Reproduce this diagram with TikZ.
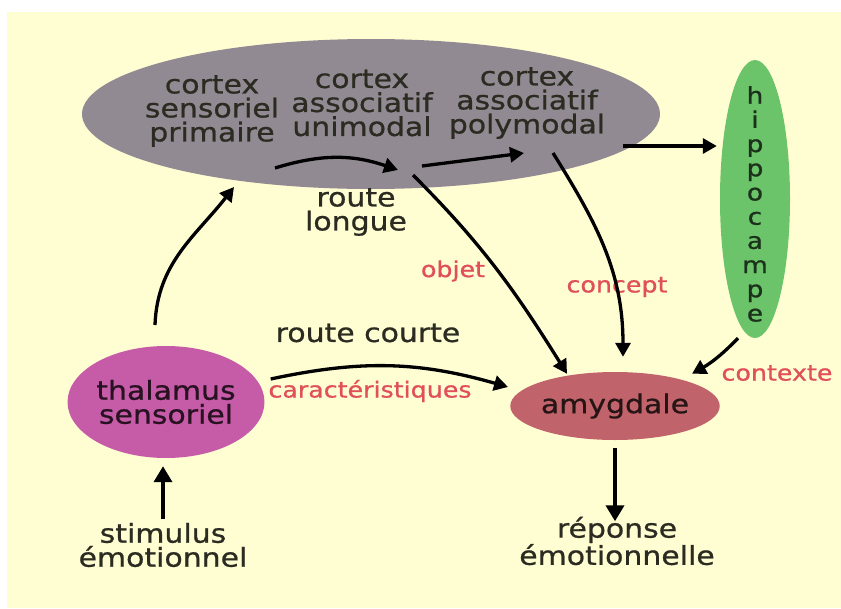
\documentclass[tikz,border=0pt]{standalone}
\usepackage{fontspec}
\setmainfont{DejaVu Sans}[FakeStretch=1.15, FakeBold=0.8]
\definecolor{emCream}{HTML}{FFFED3}
\definecolor{emGrey}{HTML}{928A92}
\definecolor{emGreen}{HTML}{6CC46A}
\definecolor{emPink}{HTML}{C65BA8}
\definecolor{emRose}{HTML}{C1636B}
\definecolor{emRed}{HTML}{E0505A}
\definecolor{emText}{HTML}{2B2B22}
\usetikzlibrary{arrows.meta,shapes.geometric}

\begin{document}
\begin{tikzpicture}[x=1pt, y=1pt,
  zone/.style={ellipse, inner sep=0pt},
  txt/.style={align=center, text=emText, font=\fontsize{26}{24}\selectfont},
  lbl/.style={text=emRed, font=\fontsize{22}{22}\selectfont},
  arr/.style={-{Triangle[length=14pt, width=15pt]}, line width=3.3pt, color=black},
  bigarr/.style={-{Triangle[length=16pt, width=18pt]}, line width=3.8pt, color=black}
]
  \useasboundingbox (0,0) rectangle (841,-608);
  \fill[emCream] (7,-12) rectangle (841,-608);

  \node[zone, fill=emGrey, minimum width=578pt, minimum height=150pt] (cortex) at (371,-114) {};
  \node[txt] (prim) at (212,-111) {cortex\\sensoriel\\primaire};
  \node[txt] (uni) at (362,-103) {cortex\\associatif\\unimodal};
  \node[txt] (poly) at (527,-103) {cortex\\associatif\\polymodal};

  \node[zone, fill=emGreen, minimum width=70pt, minimum height=278pt] (hippo) at (755,-199) {};
  \node[txt, text=black!75!emGreen, font=\fontsize{23}{24.2}\selectfont] (hippotxt) at (755,-204)
    {h\\i\\p\\p\\o\\c\\a\\m\\p\\e};

  \node[zone, fill=emPink, minimum width=178pt, minimum height=112pt, txt,
    text=black!80!emPink] (thal) at (166,-402) {thalamus\\sensoriel};
  \node[zone, fill=emRose, minimum width=200pt, minimum height=68pt, txt,
    text=black!80!emRose] (amyg) at (615,-406) {amygdale};

  \node[txt] (stim) at (163,-545) {stimulus\\émotionnel};
  \node[txt] (rep) at (617,-541) {réponse\\émotionnelle};
  \node[txt] (longue) at (356,-212) {route\\longue};
  \node[txt] (courte) at (368,-333) {route courte};

  \node[lbl] (carac) at (370,-391) {caractéristiques};
  \node[lbl] (objet) at (453,-271) {objet};
  \node[lbl] (concept) at (617,-287) {concept};
  \node[lbl] (contexte) at (777,-373) {contexte};

  \coordinate (r1) at (275,-168);
  \coordinate (r2) at (398,-170);
  \coordinate (r3) at (422,-166);
  \coordinate (r4) at (524,-153);
  \coordinate (r5) at (623,-146);
  \coordinate (t1) at (155,-325);
  \coordinate (t2) at (234,-187);
  \coordinate (o1) at (413,-175);
  \coordinate (c1) at (553,-153);

  \draw[arr] (r1) to[bend left=18] (r2);
  \draw[arr] (r3) -- (r4);
  \draw[arr] (r5) -- ([xshift=-3pt]r5 -| hippo.west);
  \draw[arr] (t1) to[out=88, in=-128] (t2);
  \draw[arr] (o1) to[out=-45, in=122] ([xshift=-48pt, yshift=-2pt]amyg.north);
  \draw[arr] (c1) to[out=-58, in=90] ([xshift=8pt, yshift=15pt]amyg.north);
  \draw[arr] ([xshift=-17pt]hippo.south) to[bend left=8] ([xshift=77pt, yshift=-2pt]amyg.north);
  \draw[arr] ([xshift=6pt, yshift=23pt]thal.east) to[bend left=14] ([xshift=-2pt, yshift=19pt]amyg.west);
  \draw[bigarr] (stim.north) -- ([yshift=-8pt]stim.north |- thal.south);
  \draw[bigarr] ([yshift=-8pt]amyg.south) -- ([yshift=-8pt]amyg.south |- rep.north);
\end{tikzpicture}
\end{document}
